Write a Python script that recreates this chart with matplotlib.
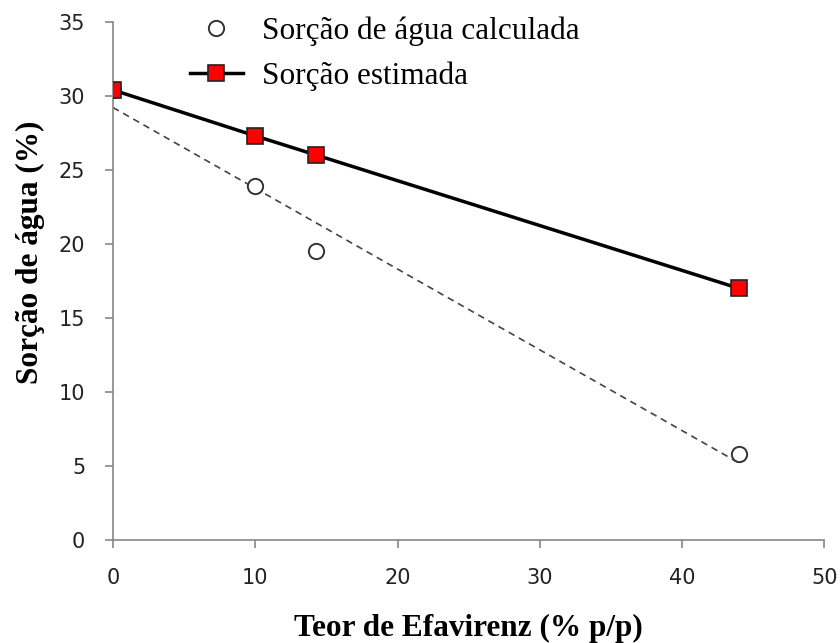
import matplotlib.pyplot as plt
import numpy as np

# Teor de efavirenz (% p/p)
teor = [0, 10, 14.3, 44]
sorcao_calculada = [30.4, 23.9, 19.5, 5.8]
sorcao_estimada = [30.4, 27.3, 26.0, 17.0]

fig = plt.figure(figsize=(8.4, 6.43), dpi=100)
ax = fig.add_axes([0.1345, 0.160, 0.847, 0.806])

# linha de tendência dos valores calculados
coef = np.polyfit(teor, sorcao_calculada, 1)
xs = np.array([min(teor), max(teor)])
ax.plot(xs, np.polyval(coef, xs), ls=(0, (4, 3)), color="#444444", lw=1.2, zorder=1)

ax.plot(teor, sorcao_calculada, "o", ms=11, mfc="white", mec="#333333", mew=1.4,
        ls="none", label="Sorção de água calculada", zorder=2)
ax.plot(teor, sorcao_estimada, "s-", color="black", lw=2.5, ms=11, mfc="red",
        mec="#222222", mew=1.2, label="Sorção estimada", zorder=3)

ax.set_xlim(0, 50)
ax.set_ylim(0, 35)
ax.set_xticks(range(0, 51, 10))
ax.set_yticks(range(0, 36, 5))

for s in ["top", "right"]:
    ax.spines[s].set_visible(False)
for s in ["left", "bottom"]:
    ax.spines[s].set_color("#868686")
    ax.spines[s].set_linewidth(1.2)
ax.tick_params(direction="out", length=6, width=1.2, color="#868686",
               labelsize=15, labelcolor="#222222", pad=14)
for lab in ax.get_xticklabels() + ax.get_yticklabels():
    lab.set_family("DejaVu Sans")

ax.set_xlabel("Teor de Efavirenz (% p/p)", family="Liberation Serif", fontweight="bold",
              fontsize=22.5, labelpad=19)
ax.set_ylabel("Sorção de água (%)", family="Liberation Serif", fontweight="bold",
              fontsize=22.5)
ax.yaxis.set_label_coords(-0.096, 0.556)

leg = ax.legend(loc="upper left", bbox_to_anchor=(0.108, 1.011), frameon=False,
                prop={"family": "Liberation Serif", "size": 22.5}, handlelength=1.7,
                labelspacing=0.5, handletextpad=0.6, borderpad=0, borderaxespad=0)

fig.savefig("out.png", dpi=100, facecolor="white")
